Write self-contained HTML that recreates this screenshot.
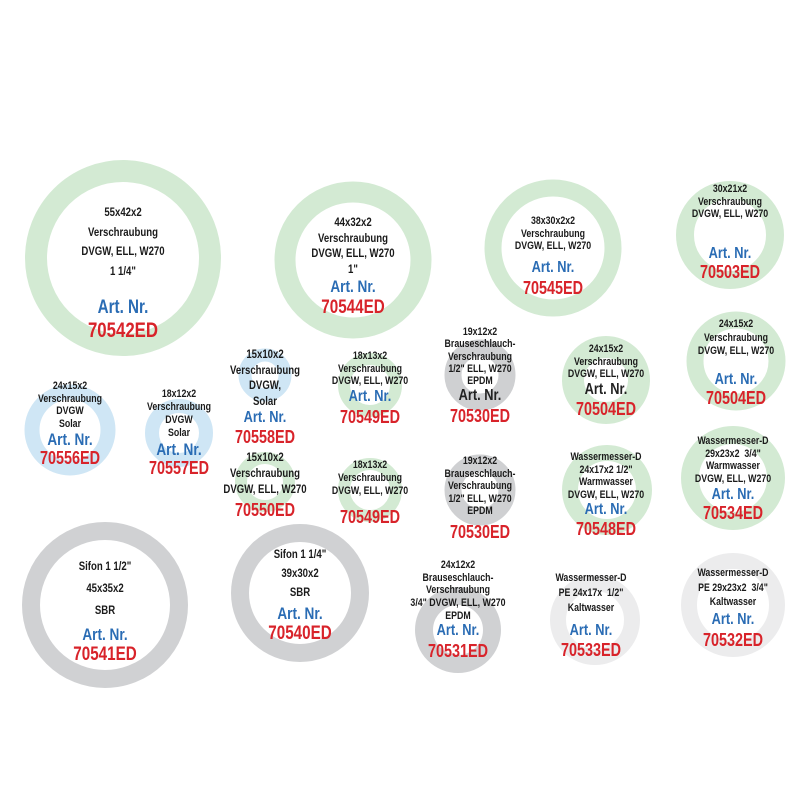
<!DOCTYPE html>
<html><head><meta charset="utf-8"><style>
body{margin:0;background:#fff;}
#w{position:relative;width:800px;height:800px;overflow:hidden;font-family:"Liberation Sans Narrow","Liberation Sans",sans-serif;font-weight:bold;}
svg{position:absolute;left:0;top:0}
.t{position:absolute;width:160px;text-align:center;color:#1a1a1a;font-size:11px;white-space:nowrap;transform:scaleX(0.8);transform-origin:80px 0;}
.t div{height:var(--lh)}
.a{color:#2a6cb4;font-size:16px;}
.c{color:#d8232a;font-size:18px;}
</style></head><body><div id="w">
<svg width="800" height="800">
<g fill="none">
<circle cx="123" cy="258" r="87" stroke="#d3ead3" stroke-width="22"/>
<circle cx="353" cy="260" r="68" stroke="#d3ead3" stroke-width="21"/>
<circle cx="553" cy="248" r="60" stroke="#d3ead3" stroke-width="17"/>
<circle cx="730" cy="235" r="45" stroke="#d3ead3" stroke-width="18"/>
<circle cx="736" cy="361" r="41" stroke="#d3ead3" stroke-width="17"/>
<circle cx="606" cy="380" r="33" stroke="#d3ead3" stroke-width="22"/>
<circle cx="70" cy="430" r="38" stroke="#cfe6f5" stroke-width="15"/>
<circle cx="179" cy="433" r="27" stroke="#cfe6f5" stroke-width="14"/>
<circle cx="265" cy="375" r="20" stroke="#cfe6f5" stroke-width="13"/>
<circle cx="370" cy="385" r="26" stroke="#d3ead3" stroke-width="12"/>
<circle cx="370" cy="490" r="26" stroke="#d3ead3" stroke-width="12"/>
<circle cx="265" cy="482" r="24" stroke="#d3ead3" stroke-width="12"/>
<circle cx="480" cy="375" r="27" stroke="#cfd0d2" stroke-width="17"/>
<circle cx="480" cy="490" r="27" stroke="#cfd0d2" stroke-width="17"/>
<circle cx="607" cy="490" r="37" stroke="#d3ead3" stroke-width="16"/>
<circle cx="733" cy="478" r="43" stroke="#d3ead3" stroke-width="18"/>
<circle cx="105" cy="605" r="74" stroke="#d0d1d3" stroke-width="18"/>
<circle cx="300" cy="593" r="60" stroke="#d0d1d3" stroke-width="18"/>
<circle cx="458" cy="630" r="34" stroke="#d0d1d3" stroke-width="18"/>
<circle cx="595" cy="620" r="37" stroke="#ececed" stroke-width="16"/>
<circle cx="733" cy="605" r="44" stroke="#ececed" stroke-width="16"/>
</g></svg>

<div class="t" style="left:43px;top:205px;--lh:19.5px;font-size:12px"><div>55x42x2</div><div>Verschraubung</div><div>DVGW, ELL, W270</div><div>1 1/4"</div><div style="height:14px"></div><div class="a" style="font-size:19px;height:22px">Art. Nr.</div><div class="c" style="font-size:21px">70542ED</div></div>

<div class="t" style="left:273px;top:215px;--lh:15.5px;font-size:12px"><div>44x32x2</div><div>Verschraubung</div><div>DVGW, ELL, W270</div><div>1"</div><div class="a" style="font-size:17px;height:20px">Art. Nr.</div><div class="c" style="font-size:19px">70544ED</div></div>

<div class="t" style="left:473px;top:215px;--lh:12.5px"><div>38x30x2x2</div><div>Verschraubung</div><div>DVGW, ELL, W270</div><div style="height:6px"></div><div class="a" style="height:19px">Art. Nr.</div><div class="c">70545ED</div></div>

<div class="t" style="left:650px;top:183px;--lh:12.5px"><div>30x21x2</div><div>Verschraubung</div><div>DVGW, ELL, W270</div><div style="height:24px"></div><div class="a" style="height:17px">Art. Nr.</div><div class="c">70503ED</div></div>

<div class="t" style="left:656px;top:318px;--lh:13.5px"><div>24x15x2</div><div>Verschraubung</div><div>DVGW, ELL, W270</div><div style="height:12px"></div><div class="a" style="height:17px">Art. Nr.</div><div class="c">70504ED</div></div>

<div class="t" style="left:526px;top:343px;--lh:12.5px"><div>24x15x2</div><div>Verschraubung</div><div>DVGW, ELL, W270</div><div class="a" style="height:18px;color:#222">Art. Nr.</div><div class="c">70504ED</div></div>

<div class="t" style="left:400px;top:326px;--lh:12.3px"><div>19x12x2</div><div>Brauseschlauch-</div><div>Verschraubung</div><div>1/2" ELL, W270</div><div>EPDM</div><div class="a" style="height:19px;color:#222">Art. Nr.</div><div class="c">70530ED</div></div>

<div class="t" style="left:290px;top:350px;--lh:12.5px"><div>18x13x2</div><div>Verschraubung</div><div>DVGW, ELL, W270</div><div class="a" style="height:19px">Art. Nr.</div><div class="c">70549ED</div></div>

<div class="t" style="left:185px;top:347px;--lh:15.5px;font-size:12px"><div>15x10x2</div><div>Verschraubung</div><div>DVGW,</div><div>Solar</div><div class="a" style="height:18px">Art. Nr.</div><div class="c">70558ED</div></div>

<div class="t" style="left:-10px;top:380px;--lh:12.5px"><div>24x15x2</div><div>Verschraubung</div><div>DVGW</div><div>Solar</div><div class="a" style="height:18px;font-size:17px">Art. Nr.</div><div class="c">70556ED</div></div>

<div class="t" style="left:99px;top:388px;--lh:13px"><div>18x12x2</div><div>Verschraubung</div><div>DVGW</div><div>Solar</div><div class="a" style="height:18px;font-size:17px">Art. Nr.</div><div class="c">70557ED</div></div>

<div class="t" style="left:185px;top:450px;--lh:16px;font-size:12px"><div>15x10x2</div><div>Verschraubung</div><div>DVGW, ELL, W270</div><div class="c" style="padding-top:2px">70550ED</div></div>

<div class="t" style="left:290px;top:459px;--lh:13px"><div>18x13x2</div><div>Verschraubung</div><div>DVGW, ELL, W270</div><div class="c" style="padding-top:9px">70549ED</div></div>

<div class="t" style="left:400px;top:455px;--lh:12.5px"><div>19x12x2</div><div>Brauseschlauch-</div><div>Verschraubung</div><div>1/2" ELL, W270</div><div>EPDM</div><div class="c" style="padding-top:4px">70530ED</div></div>

<div class="t" style="left:526px;top:451px;--lh:12.5px"><div>Wassermesser-D</div><div>24x17x2 1/2"</div><div>Warmwasser</div><div>DVGW, ELL, W270</div><div class="a" style="height:18px">Art. Nr.</div><div class="c">70548ED</div></div>

<div class="t" style="left:653px;top:435px;--lh:12.7px"><div>Wassermesser-D</div><div>29x23x2&nbsp; 3/4"</div><div>Warmwasser</div><div>DVGW, ELL, W270</div><div class="a" style="height:17px">Art. Nr.</div><div class="c">70534ED</div></div>

<div class="t" style="left:25px;top:559px;--lh:22px;font-size:12px"><div>Sifon 1 1/2"</div><div>45x35x2</div><div>SBR</div><div class="a" style="height:19px;font-size:17px">Art. Nr.</div><div class="c" style="font-size:19px">70541ED</div></div>

<div class="t" style="left:220px;top:547px;--lh:19px;font-size:12px"><div>Sifon 1 1/4"</div><div>39x30x2</div><div>SBR</div><div class="a" style="height:19px;font-size:17px">Art. Nr.</div><div class="c" style="font-size:19px">70540ED</div></div>

<div class="t" style="left:378px;top:559px;--lh:12.7px"><div>24x12x2</div><div>Brauseschlauch-</div><div>Verschraubung</div><div>3/4" DVGW, ELL, W270</div><div>EPDM</div><div class="a" style="height:19px">Art. Nr.</div><div class="c">70531ED</div></div>

<div class="t" style="left:511px;top:572px;--lh:15px"><div>Wassermesser-D</div><div>PE 24x17x&nbsp; 1/2"</div><div>Kaltwasser</div><div style="height:5px"></div><div class="a" style="height:18px">Art. Nr.</div><div class="c">70533ED</div></div>

<div class="t" style="left:653px;top:567px;--lh:14.5px"><div>Wassermesser-D</div><div>PE 29x23x2&nbsp; 3/4"</div><div>Kaltwasser</div><div class="a" style="height:19px">Art. Nr.</div><div class="c">70532ED</div></div>
</div></body></html>
